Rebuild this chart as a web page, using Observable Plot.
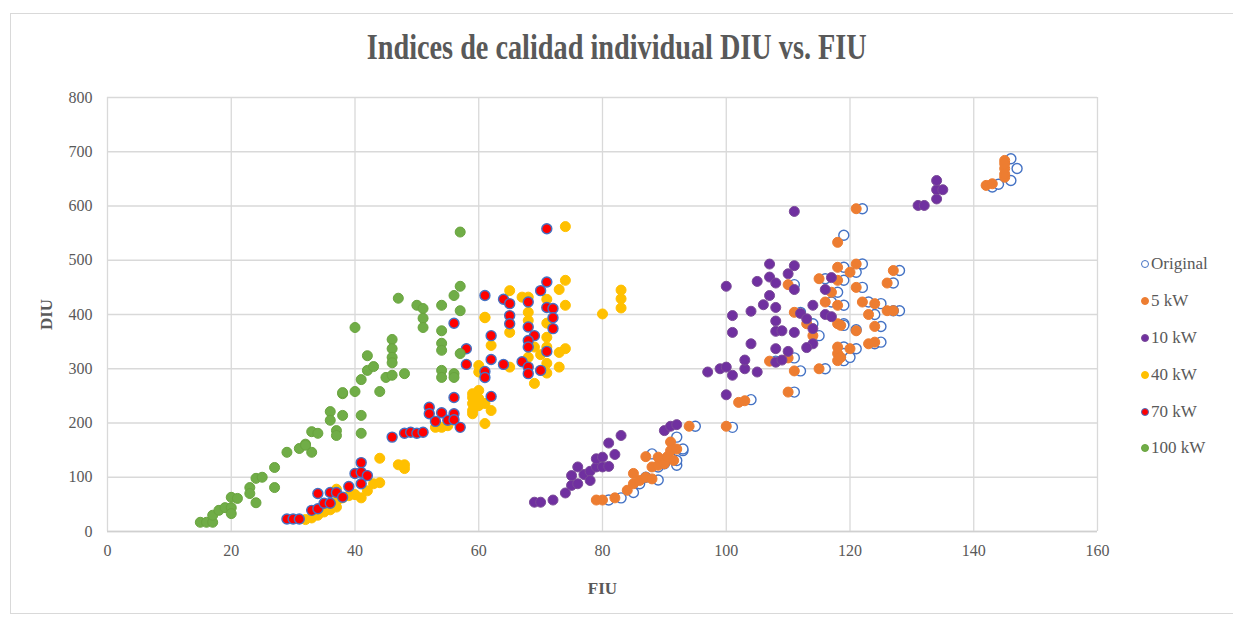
<!DOCTYPE html>
<html>
<head>
<meta charset="utf-8">
<script src="https://cdn.jsdelivr.net/npm/d3@7"></script>
<script src="https://cdn.jsdelivr.net/npm/@observablehq/plot@0.6"></script>
<style>
  html, body { margin: 0; padding: 0; background: #ffffff; }
  #wrap { position: relative; width: 1233px; height: 620px; overflow: hidden; background: #fff; }
  #frame { position: absolute; left: 10px; top: 13px; width: 1240px; height: 601px; border: 1px solid #d9d9d9; box-sizing: border-box; }
  #title { position: absolute; left: 0; top: 28px; width: 1233px; text-align: center; font-family: "Liberation Serif", serif; font-weight: bold; font-size: 35px; color: #595959; white-space: nowrap; }
  #title span { display: inline-block; transform-origin: center center; }
  #chart { position: absolute; left: 0; top: 0; }
  #legend { position: absolute; left: 1141px; top: 246px; font-family: "Liberation Serif", serif; font-size: 17px; color: #595959; }
  .item { height: 36.8px; display: flex; align-items: center; white-space: nowrap; }
  .sw { width: 8px; height: 8px; border-radius: 50%; box-sizing: border-box; margin-right: 2px; }
</style>
</head>
<body>
<div id="wrap">
  <div id="frame"></div>
  <div id="chart"></div>
  <div id="title"><span>Indices de calidad individual DIU vs. FIU</span></div>
  <div id="legend"></div>
</div>
<script>
// ---- Data (FIU, DIU) ----
const original = [[81,58],[83,62],[85,72],[86,88],[87,100],[88,143],[89,95],[89,119],[90,125],[91,137],[92,122],[92,174],[93,149],[92,131],[93,152],[95,194],[101,192],[104,243],[111,257],[108,314],[111,320],[112,296],[116,300],[112,404],[114,383],[115,361],[119,383],[119,380],[121,372],[124,400],[125,378],[124,346],[125,349],[128,481],[127,458],[128,407],[127,407],[119,340],[119,328],[119,315],[120,321],[121,337],[111,455],[116,466],[119,463],[118,441],[117,423],[122,450],[119,417],[123,423],[125,420],[119,487],[122,493],[121,478],[119,546],[122,595],[143,635],[146,647],[147,669],[146,687],[144,640]];
const kw5 = [[79,58],[80,58],[82,62],[84,76],[85,107],[85,88],[86,94],[87,138],[87,100],[88,119],[88,97],[89,122],[89,137],[90,125],[90.5,138],[91,165],[91,149],[91.5,131],[92,152],[94,194],[100,194],[102,238],[103,241],[110,257],[107,314],[110,320],[111,296],[115,300],[111,404],[113,383],[114,361],[118,383],[118.5,380],[121,370],[123,400],[124,378],[123,346],[124,349],[127,481],[126,458],[127,407],[126,407],[118,340],[118,328],[118,315],[118.5,321],[120,337],[110,455],[115,466],[118,463],[117,441],[116,423],[121,450],[118,417],[122,423],[124,420],[118,487],[121,493],[120,478],[118,533],[121,595],[142,638],[143,641],[145,684],[145,669],[145,653],[145,659],[145,678]];
const kw10 = [[69,54],[70,54],[72,58],[74,71],[75,85],[76,88],[75,103],[76,119],[77,105],[78,111],[78,94],[79,119],[79,134],[80,137],[80,119],[81,120],[81,163],[82,142],[83,177],[90,186],[91,194],[92,197],[100,252],[97,294],[99,300],[100,303],[101,288],[103,300],[105,294],[103,316],[108,312],[109,316],[108,337],[110,332],[104,346],[101,367],[108,369],[109,370],[111,367],[114,374],[114,346],[113,339],[108,388],[100,452],[104,406],[101,398],[112,402],[113,392],[114,417],[116,446],[117,468],[116,400],[117,396],[107,493],[111,490],[110,475],[107,469],[105,461],[108,458],[111,446],[107,435],[106,418],[108,413],[111,590],[131,601],[132,601],[134,613],[134,630],[135,630],[134,647]];
const kw40 = [[32,22],[33,25],[34,30],[35,36],[36,40],[37,45],[37,55],[37,78],[38,62],[39,66],[40,68],[41,62],[42,75],[43,88],[44,90],[44,135],[47,123],[48,123],[48,116],[53,192],[54,192],[55,195],[59,247],[59,223],[60,232],[61,236],[61,199],[62,223],[60,260],[61,394],[62,343],[60,306],[74,562],[74,463],[73,446],[74,417],[71,428],[65,444],[67,432],[68,432],[68,404],[68,389],[65,367],[61,395],[71,384],[69,340],[71,358],[71,340],[70,326],[71,310],[71,292],[73,330],[74,337],[73,303],[68,321],[69,273],[65,303],[60,294],[59,254],[59,236],[59,217],[60,245],[80,401],[83,445],[83,429],[83,412]];
const kw70 = [[29,23],[30,23],[31,23],[33,39],[34,42],[34,70],[35,52],[36,52],[36,72],[37,72],[38,63],[39,83],[40,107],[41,127],[41,109],[41,88],[42,103],[46,174],[48,181],[49,183],[50,181],[51,183],[52,229],[52,217],[53,203],[54,219],[55,205],[56,217],[56,206],[57,192],[56,247],[56,384],[58,337],[58,308],[61,435],[62,361],[62,317],[61,295],[61,284],[62,249],[64,428],[65,420],[65,398],[65,383],[64,308],[67,313],[68,423],[68,377],[69,361],[68,352],[68,340],[68,303],[68,291],[70,444],[70,297],[71,558],[71,460],[71,413],[72,411],[72,394],[72,374],[71,332]];
const kw100 = [[15,17],[16,17],[17,17],[17,30],[18,39],[19,44],[20,63],[20,44],[20,33],[21,61],[23,81],[23,70],[24,98],[24,53],[25,100],[27,118],[27,81],[29,146],[31,153],[32,161],[33,146],[32,159],[33,184],[34,181],[36,221],[36,205],[37,186],[37,177],[38,214],[38,254],[38,256],[40,258],[40,376],[41,280],[41,214],[41,181],[42,297],[42,324],[43,304],[45,284],[46,288],[44,258],[46,354],[46,337],[46,321],[46,311],[47,430],[48,291],[50,417],[51,411],[51,393],[51,376],[54,417],[54,370],[54,347],[54,334],[54,297],[54,284],[56,435],[56,291],[56,284],[57,552],[57,452],[57,407],[57,328]];

const seriesNames = ["Original", "5 kW", "10 kW", "40 kW", "70 kW", "100 kW"];
const seriesData = [original, kw5, kw10, kw40, kw70, kw100];
const xTicks = [0, 20, 40, 60, 80, 100, 120, 140, 160];
const yTicks = [0, 100, 200, 300, 400, 500, 600, 700, 800];

// ---- Styles ----
const fills = ["#ffffff", "#ED7D31", "#7030A0", "#FFC000", "#FF0000", "#70AD47"];
const strokes = ["#4472C4", "#ED7D31", "#7a4a98", "#FFC000", "#4472C4", "#6aa43f"];
const strokeWidths = [1.4, 1, 1, 1, 1.4, 1];

const rows = seriesData.map((arr, i) => arr.map(([fiu, diu]) => ({fiu, diu, serie: seriesNames[i]})));

const chart = Plot.plot({
  width: 1233,
  height: 620,
  marginLeft: 107,
  marginRight: 136,
  marginTop: 97,
  marginBottom: 89,
  style: {fontFamily: "'Liberation Serif', serif", fontSize: "16px", color: "#595959", background: "transparent", overflow: "visible"},
  x: {domain: [0, 160], ticks: xTicks, tickSize: 0, tickPadding: 13, label: "FIU", labelAnchor: "center", labelArrow: "none", labelOffset: 62},
  y: {domain: [0, 800], ticks: yTicks, tickSize: 0, tickPadding: 15, label: "DIU", labelAnchor: "center", labelArrow: "none", labelOffset: 68},
  marks: [
    Plot.gridX(xTicks, {stroke: "#d9d9d9", strokeOpacity: 1, strokeWidth: 1.3}),
    Plot.gridY(yTicks, {stroke: "#d9d9d9", strokeOpacity: 1, strokeWidth: 1.3}),
    Plot.ruleY([0], {stroke: "#d0d0d0", strokeWidth: 1.5}),
    ...rows.map((r, i) => Plot.dot(r, {x: "fiu", y: "diu", r: 5, fill: fills[i], stroke: strokes[i], strokeWidth: strokeWidths[i]}))
  ]
});
document.getElementById("chart").appendChild(chart);

// bold axis labels
chart.querySelectorAll('[aria-label="x-axis label"] text, [aria-label="y-axis label"] text').forEach(t => {
  t.style.fontWeight = "bold";
  t.style.fontSize = "17px";
});

// title condensed to reference width
const ts = document.querySelector("#title span");
const w = ts.getBoundingClientRect().width;
ts.style.transform = `scaleX(${500 / w})`;

// legend
const leg = document.getElementById("legend");
seriesNames.forEach((name, i) => {
  const it = document.createElement("div");
  it.className = "item";
  const sw = document.createElement("span");
  sw.className = "sw";
  sw.style.background = fills[i];
  sw.style.border = `${i === 0 ? 1.5 : 1}px solid ${strokes[i]}`;
  const tx = document.createElement("span");
  tx.textContent = name;
  it.appendChild(sw);
  it.appendChild(tx);
  leg.appendChild(it);
});
</script>
</body>
</html>
